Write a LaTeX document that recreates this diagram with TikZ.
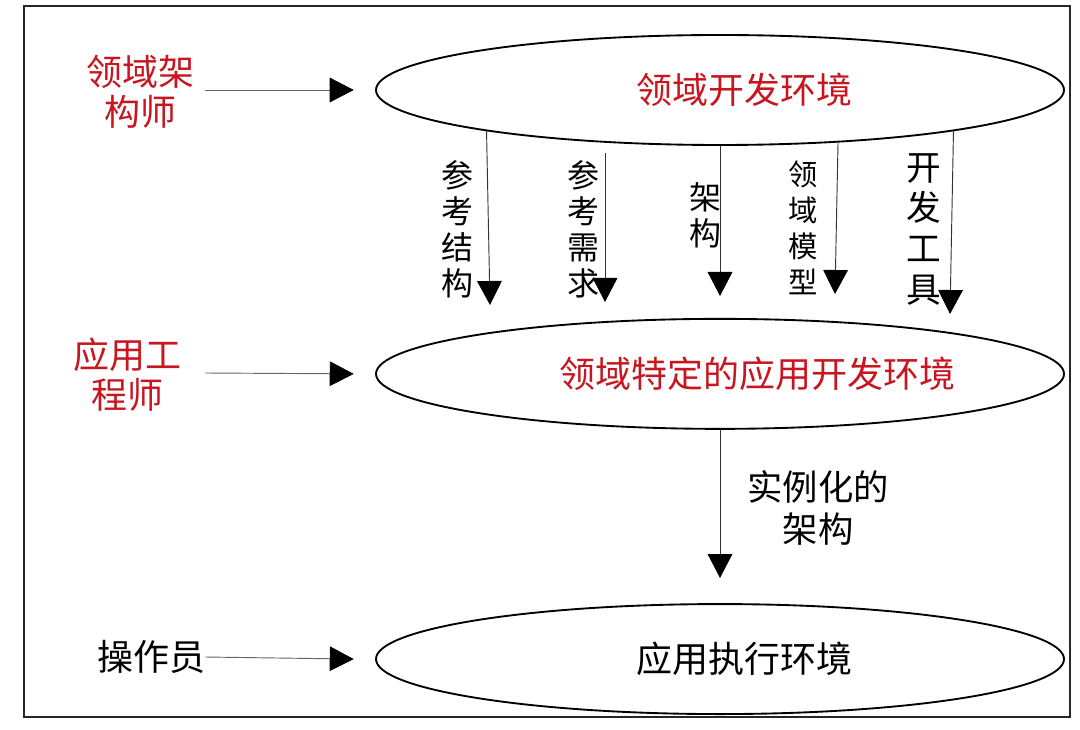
\documentclass[tikz,border=0pt]{standalone}
\usepackage{fontspec}
\setmainfont{Noto Sans CJK SC}
\usepackage{xcolor}
\usetikzlibrary{arrows.meta}
\usetikzlibrary{shapes.geometric}
\usetikzlibrary{positioning}
\definecolor{rolered}{RGB}{200,22,32}

\tikzset{
  env/.style = {ellipse, draw, line width=1.4pt, minimum width=516pt, minimum height=82.5pt, inner sep=0pt},
  envtext/.style = {font=\fontsize{27pt}{30pt}\selectfont, inner sep=0pt},
  role/.style = {font=\fontsize{27pt}{30pt}\selectfont, align=center, inner sep=0pt},
  tag/.style = {font=\fontsize{24pt}{27pt}\selectfont, align=center, inner sep=0pt},
  flow/.style = {-{Triangle[length=18pt, width=18.5pt, black]}, line width=0.7pt, draw=black!80},
}

\begin{document}
\begin{tikzpicture}[x=0.75pt, y=-0.75pt]
    \useasboundingbox (0,0) rectangle (1080,730);
    \draw[line width=1.6pt, black!85] (24,6) rectangle (1070,717); % cornice

    % ambienti (ellissi)
    \node[env] (dev) at (720,90) {};                 % ambiente di sviluppo del dominio
    \node[env, below=129pt of dev] (app) {};         % ambiente specifico del dominio
    \node[env, below=130pt of app] (run) {};         % ambiente di esecuzione
    \node[envtext, text=rolered] (devtxt) at ([xshift=18pt]dev.center) {领域开发环境};
    \node[envtext, text=rolered] (apptxt) at ([xshift=28pt]app.center) {领域特定的应用开发环境};
    \node[envtext] (runtxt) at ([xshift=18pt]run.center) {应用执行环境};

    % ruoli a sinistra
    \node[role, text=rolered] (arch) at (140,92) {领域架\\构师};
    \node[role, text=rolered] (appeng) at (127,375) {应用工\\程师};
    \node[role] (oper) at (151,657) {操作员};
    \coordinate (archout) at (205,90);
    \coordinate (appout) at (205,373);

    \draw[flow, draw=black!60] (archout) -- ([xshift=-16pt]dev.west);
    \draw[flow, draw=black!60] (appout) -- ([xshift=-16pt]app.west);
    \draw[flow, draw=black!60] (oper.east) -- ([xshift=-16pt]run.west);

    % prodotti del dominio
    \coordinate (reqin) at (605,153);   % inizio staccato dall'ellisse
    \coordinate (t1) at (490,305);
    \coordinate (t2) at (605,302);
    \coordinate (t3) at (720,296);
    \coordinate (t4) at (835,294);
    \coordinate (t5) at (950,314);
    \coordinate (t6) at (720,578);

    \draw[flow] (dev.190) -- (t1);
    \draw[flow] (reqin) -- (t2);
    \draw[flow] (dev.south) -- (t3);
    \draw[flow] (dev.-24.2) -- (t4);
    \draw[flow] (dev.-10.1) -- (t5);
    \draw[flow] (app.south) -- (t6);

    \node[tag] (refarch) at (457,229) {参\\考\\结\\构};
    \node[tag] (refreq) at (583,229) {参\\考\\需\\求};
    \node[tag] (archtag) at (705,215) {架\\构};
    \node[tag, font=\fontsize{22pt}{27pt}\selectfont] (model) at (803,228) {领\\域\\模\\型};
    \node[tag, font=\fontsize{26pt}{30.5pt}\selectfont] (tools) at (924,229) {开\\发\\工\\具};
    \node[tag, font=\fontsize{26.5pt}{32pt}\selectfont] (inst) at (818,508) {实例化的\\架构};
\end{tikzpicture}
\end{document}
